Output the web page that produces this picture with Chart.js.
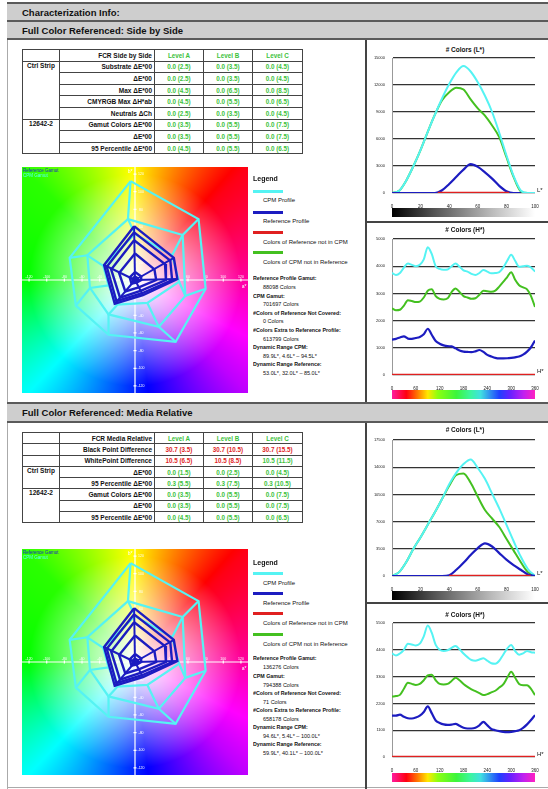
<!DOCTYPE html>
<html>
<head>
<meta charset="utf-8">
<title>Characterization Info</title>
<script src="https://cdn.jsdelivr.net/npm/chart.js"></script>
<style>
  body { margin: 0; background: #fff; font-family: "Liberation Sans", Arial, sans-serif; color: #111; }
  #page { position: relative; width: 548px; height: 789px; overflow: hidden; }
  .bar { position: absolute; left: 7px; right: 0; background: #cecece; font-weight: bold; font-size: 9.5px;
         padding-left: 15px; box-sizing: border-box; display: flex; align-items: center; }
  .vline { position: absolute; background: #444; }
  table.fcr { position: absolute; left: 22px; border-collapse: collapse; table-layout: fixed;
              font-weight: bold; border: 1.5px solid #444; }
  table.fcr td { border: 1px solid #444; padding: 0 2px; white-space: nowrap; overflow: hidden; }
  table.fcr td.lbl { text-align: right; font-size: 6.5px; }
  table.fcr td.grp { vertical-align: top; text-align: center; font-size: 6.5px; }
  table.fcr td.hd, table.fcr td.ok, table.fcr td.bad { text-align: center; font-size: 6.3px; }
  table.fcr td.hd, table.fcr td.ok { color: #3cc23c; }
  table.fcr td.bad { color: #e02525; }
  .lg { position: absolute; left: 253px; width: 110px; overflow: hidden; white-space: nowrap; }
  .t { position: absolute; white-space: nowrap; line-height: 8px; }
  .sw { position: absolute; left: 253px; width: 30px; height: 2.5px; }
  .ttl { position: absolute; width: 182px; left: 374px; text-align: center; font-weight: bold; font-size: 6.5px; }
  .gbar { position: absolute; left: 392px; width: 143px; height: 9px; }
  .gray { background: linear-gradient(to right, #000, #555 30%, #bbb 70%, #fff); }
  .hue { background: linear-gradient(to right, #ff1a9e 0%, #ff0010 10%, #ff7a00 18%, #ffe800 25%, #8cff10 32%, #3cf53c 45%, #3cf5a0 55%, #40e0e0 62%, #2040ff 75%, #6a20ff 83%, #c020f0 92%, #ff20c0 100%); }
  canvas { position: absolute; }
</style>
</head>
<body>
<div id="page">
  <div class="bar" style="top:2px;height:19px;border-top:2px solid #5a5a5a;">Characterization Info:</div>
  <div class="bar" style="top:20px;height:20px;border-top:2px solid #5a5a5a;border-bottom:2px solid #5a5a5a;">Full Color Referenced: Side by Side</div>
  <div class="bar" style="top:402px;height:21px;border-top:2px solid #5a5a5a;border-bottom:2px solid #5a5a5a;">Full Color Referenced: Media Relative</div>

  <div class="vline" style="left:7px;top:40px;width:1px;height:362px;background:#aaa"></div>
  <div class="vline" style="left:7px;top:423px;width:1px;height:366px;background:#aaa"></div>
  <div class="vline" style="left:7px;top:787px;width:541px;height:1px;background:#aaa"></div>
  <div class="vline" style="left:365px;top:40px;width:2px;height:362px"></div>
  <div class="vline" style="left:365px;top:423px;width:2px;height:366px"></div>
  <div class="vline" style="left:365px;top:221px;width:183px;height:2px"></div>
  <div class="vline" style="left:365px;top:602px;width:183px;height:2px"></div>

  <table class="fcr" style="top:49px">
    <colgroup><col style="width:37px"><col style="width:95px"><col style="width:49px"><col style="width:49px"><col style="width:50px"></colgroup>
    <tr style="height:11.6px"><td></td><td class="lbl">FCR Side by Side</td><td class="hd">Level A</td><td class="hd">Level B</td><td class="hd">Level C</td></tr>
    <tr style="height:11.6px"><td rowspan="5" class="grp">Ctrl Strip</td><td class="lbl">Substrate ΔE*00</td><td class="ok">0.0 (2.5)</td><td class="ok">0.0 (3.5)</td><td class="ok">0.0 (4.5)</td></tr>
    <tr style="height:11.6px"><td class="lbl">ΔE*00</td><td class="ok">0.0 (2.5)</td><td class="ok">0.0 (3.5)</td><td class="ok">0.0 (4.5)</td></tr>
    <tr style="height:11.6px"><td class="lbl">Max ΔE*00</td><td class="ok">0.0 (4.5)</td><td class="ok">0.0 (6.5)</td><td class="ok">0.0 (8.5)</td></tr>
    <tr style="height:11.6px"><td class="lbl">CMYRGB Max ΔH*ab</td><td class="ok">0.0 (4.5)</td><td class="ok">0.0 (5.5)</td><td class="ok">0.0 (6.5)</td></tr>
    <tr style="height:11.6px"><td class="lbl">Neutrals ΔCh</td><td class="ok">0.0 (2.5)</td><td class="ok">0.0 (3.5)</td><td class="ok">0.0 (4.5)</td></tr>
    <tr style="height:11.6px"><td rowspan="3" class="grp">12642-2</td><td class="lbl">Gamut Colors ΔE*00</td><td class="ok">0.0 (3.5)</td><td class="ok">0.0 (5.5)</td><td class="ok">0.0 (7.5)</td></tr>
    <tr style="height:11.6px"><td class="lbl">ΔE*00</td><td class="ok">0.0 (3.5)</td><td class="ok">0.0 (5.5)</td><td class="ok">0.0 (7.5)</td></tr>
    <tr style="height:11.6px"><td class="lbl">95 Percentile ΔE*00</td><td class="ok">0.0 (4.5)</td><td class="ok">0.0 (5.5)</td><td class="ok">0.0 (6.5)</td></tr>
  </table>

  <table class="fcr" style="top:432px">
    <colgroup><col style="width:37px"><col style="width:95px"><col style="width:49px"><col style="width:49px"><col style="width:50px"></colgroup>
    <tr style="height:11.3px"><td></td><td class="lbl">FCR Media Relative</td><td class="hd">Level A</td><td class="hd">Level B</td><td class="hd">Level C</td></tr>
    <tr style="height:11.3px"><td></td><td class="lbl">Black Point Difference</td><td class="bad">30.7 (3.5)</td><td class="bad">30.7 (10.5)</td><td class="bad">30.7 (15.5)</td></tr>
    <tr style="height:11.3px"><td></td><td class="lbl">WhitePoint Difference</td><td class="bad">10.5 (6.5)</td><td class="bad">10.5 (8.5)</td><td class="ok">10.5 (11.5)</td></tr>
    <tr style="height:11.3px"><td rowspan="2" class="grp">Ctrl Strip</td><td class="lbl">ΔE*00</td><td class="ok">0.0 (1.5)</td><td class="ok">0.0 (2.5)</td><td class="ok">0.0 (4.5)</td></tr>
    <tr style="height:11.3px"><td class="lbl">95 Percentile ΔE*00</td><td class="ok">0.3 (5.5)</td><td class="ok">0.3 (7.5)</td><td class="ok">0.3 (10.5)</td></tr>
    <tr style="height:11.3px"><td rowspan="3" class="grp">12642-2</td><td class="lbl">Gamut Colors ΔE*00</td><td class="ok">0.0 (3.5)</td><td class="ok">0.0 (5.5)</td><td class="ok">0.0 (7.5)</td></tr>
    <tr style="height:11.3px"><td class="lbl">ΔE*00</td><td class="ok">0.0 (3.5)</td><td class="ok">0.0 (5.5)</td><td class="ok">0.0 (7.5)</td></tr>
    <tr style="height:11.3px"><td class="lbl">95 Percentile ΔE*00</td><td class="ok">0.0 (4.5)</td><td class="ok">0.0 (5.5)</td><td class="ok">0.0 (6.5)</td></tr>
  </table>

  <!-- gamut plots -->
  <canvas id="gamut1" width="226" height="226" style="left:22px;top:167px"></canvas>
  <canvas id="gamut2" width="226" height="226" style="left:22px;top:549px"></canvas>
  <div class="t" style="left:23px;top:168px;font-size:4.5px;line-height:5px;color:#1a1ad0">Reference Gamut</div>
  <div class="t" style="left:23px;top:173px;font-size:4.5px;line-height:5px;color:#5ff">CPM Gamut</div>
  <div class="t" style="left:23px;top:550px;font-size:4.5px;line-height:5px;color:#1a1ad0">Reference Gamut</div>
  <div class="t" style="left:23px;top:555px;font-size:4.5px;line-height:5px;color:#5ff">CPM Gamut</div>

  <!-- legend, section 1 -->
  <div class="lg" style="top:160px;height:230px">
    <div class="t" style="left:0;top:15px;font-size:7px;font-weight:bold">Legend</div>
    <div class="sw" style="left:0;top:30px;background:#55f3f3"></div>
    <div class="t" style="left:10px;top:36px;font-size:6px">CPM Profile</div>
    <div class="sw" style="left:0;top:51px;background:#1c1cc0"></div>
    <div class="t" style="left:10px;top:57px;font-size:6px">Reference Profile</div>
    <div class="sw" style="left:0;top:71px;background:#e02020"></div>
    <div class="t" style="left:10px;top:78px;font-size:6px">Colors of Reference not in CPM</div>
    <div class="sw" style="left:0;top:91px;background:#44c020"></div>
    <div class="t" style="left:10px;top:98px;font-size:6px">Colors of CPM not in Reference</div>
    <div class="t" style="left:0;top:114px;font-size:5.3px;font-weight:bold">Reference Profile Gamut:</div>
    <div class="t" style="left:10px;top:123px;font-size:5.5px">88098 Colors</div>
    <div class="t" style="left:0;top:132px;font-size:5.3px;font-weight:bold">CPM Gamut:</div>
    <div class="t" style="left:10px;top:140px;font-size:5.5px">701697 Colors</div>
    <div class="t" style="left:0;top:149px;font-size:5.3px;font-weight:bold">#Colors of Reference Not Covered:</div>
    <div class="t" style="left:10px;top:157px;font-size:5.5px">0 Colors</div>
    <div class="t" style="left:0;top:166px;font-size:5.3px;font-weight:bold">#Colors Extra to Reference Profile:</div>
    <div class="t" style="left:10px;top:175px;font-size:5.5px">613799 Colors</div>
    <div class="t" style="left:0;top:183px;font-size:5.3px;font-weight:bold">Dynamic Range CPM:</div>
    <div class="t" style="left:10px;top:192px;font-size:5.5px">89.9L*, 4.6L* – 94.5L*</div>
    <div class="t" style="left:0;top:200px;font-size:5.3px;font-weight:bold">Dynamic Range Reference:</div>
    <div class="t" style="left:10px;top:209px;font-size:5.5px">53.0L*, 32.0L* – 85.0L*</div>
  </div>

  <!-- legend, section 2 -->
  <div class="lg" style="top:542px;height:230px">
    <div class="t" style="left:0;top:17px;font-size:7px;font-weight:bold">Legend</div>
    <div class="sw" style="left:0;top:30px;background:#55f3f3"></div>
    <div class="t" style="left:10px;top:37px;font-size:6px">CPM Profile</div>
    <div class="sw" style="left:0;top:50px;background:#1c1cc0"></div>
    <div class="t" style="left:10px;top:57px;font-size:6px">Reference Profile</div>
    <div class="sw" style="left:0;top:70px;background:#e02020"></div>
    <div class="t" style="left:10px;top:77px;font-size:6px">Colors of Reference not in CPM</div>
    <div class="sw" style="left:0;top:91px;background:#44c020"></div>
    <div class="t" style="left:10px;top:98px;font-size:6px">Colors of CPM not in Reference</div>
    <div class="t" style="left:0;top:112px;font-size:5.3px;font-weight:bold">Reference Profile Gamut:</div>
    <div class="t" style="left:10px;top:121px;font-size:5.5px">136276 Colors</div>
    <div class="t" style="left:0;top:130px;font-size:5.3px;font-weight:bold">CPM Gamut:</div>
    <div class="t" style="left:10px;top:139px;font-size:5.5px">794388 Colors</div>
    <div class="t" style="left:0;top:147px;font-size:5.3px;font-weight:bold">#Colors of Reference Not Covered:</div>
    <div class="t" style="left:10px;top:156px;font-size:5.5px">71 Colors</div>
    <div class="t" style="left:0;top:164px;font-size:5.3px;font-weight:bold">#Colors Extra to Reference Profile:</div>
    <div class="t" style="left:10px;top:173px;font-size:5.5px">658178 Colors</div>
    <div class="t" style="left:0;top:181px;font-size:5.3px;font-weight:bold">Dynamic Range CPM:</div>
    <div class="t" style="left:10px;top:190px;font-size:5.5px">94.6L*, 5.4L* – 100.0L*</div>
    <div class="t" style="left:0;top:198px;font-size:5.3px;font-weight:bold">Dynamic Range Reference:</div>
    <div class="t" style="left:10px;top:207px;font-size:5.5px">59.9L*, 40.1L* – 100.0L*</div>
  </div>

  <!-- histograms -->
  <div class="ttl" style="left:374px;top:46px">#&nbsp;Colors (L*)</div>
  <canvas id="histL1" width="182" height="170" style="left:366px;top:40px"></canvas>
  <div class="t" style="left:537px;top:186px;font-size:6px">L*</div>
  <div class="gbar gray" style="top:208px"></div>

  <div class="ttl" style="left:374px;top:226px">#&nbsp;Colors (H*)</div>
  <canvas id="histH1" width="182" height="170" style="left:366px;top:222px"></canvas>
  <div class="t" style="left:537px;top:367px;font-size:6px">H*</div>
  <div class="gbar hue" style="top:390px"></div>

  <div class="ttl" style="left:374px;top:426px">#&nbsp;Colors (L*)</div>
  <canvas id="histL2" width="182" height="170" style="left:366px;top:422px"></canvas>
  <div class="t" style="left:537px;top:569px;font-size:6px">L*</div>
  <div class="gbar gray" style="top:591px"></div>

  <div class="ttl" style="left:374px;top:611px">#&nbsp;Colors (H*)</div>
  <canvas id="histH2" width="182" height="170" style="left:366px;top:604px"></canvas>
  <div class="t" style="left:537px;top:750px;font-size:6px">H*</div>
  <div class="gbar hue" style="top:773px"></div>
</div>

<script>
// ---- L* histograms (section 1: side by side) ----
const lightness = [0, 5, 10, 15, 20, 25, 30, 35, 40, 45, 50, 55, 60, 65, 70, 75, 80, 85, 90, 95, 100];
const cpmL1   = [0, 250, 1400, 3000, 4800, 6800, 8700, 10500, 12100, 13400, 14100, 13500, 12300, 10800, 9000, 6700, 4200, 1900, 300, 0, 0];
const extraL1 = [0, 250, 1400, 3000, 4800, 6800, 8700, 10300, 11200, 11700, 11500, 10400, 9400, 8600, 7500, 6200, 4000, 1800, 200, 0, 0];
const refL1   = [0, 0, 0, 0, 0, 0, 0, 300, 1000, 1800, 2600, 3200, 2900, 2300, 1600, 800, 200, 0, 0, null, null];
const missX1  = [32, 82];
const missL1  = [0, 0];

// ---- H* histograms (section 1) ----
const hue = [0, 10, 20, 30, 40, 50, 60, 70, 80, 90, 100, 110, 120, 130, 140, 150, 160, 170, 180,
             190, 200, 210, 220, 230, 240, 250, 260, 270, 280, 290, 300, 310, 320, 330, 340, 350, 360];
const cpmH1   = [3750, 3680, 3750, 3950, 4100, 4050, 4000, 4050, 4250, 4700, 4450, 4000, 3900, 3870, 3880, 4000, 4100, 3980, 3850,
                 3800, 3720, 3680, 3750, 3860, 3800, 3740, 3750, 3780, 3950, 4200, 4420, 4200, 3980, 4000, 4020, 3950, 3800];
const extraH1 = [2450, 2380, 2400, 2550, 2750, 2720, 2680, 2700, 2850, 3100, 3150, 2900, 2800, 2780, 2820, 3050, 3180, 3050, 2900,
                 2850, 2800, 2820, 2950, 3100, 3080, 3060, 3100, 3250, 3420, 3600, 3780, 3500, 3300, 3220, 3150, 2900, 2500];
const refH1   = [1300, 1330, 1380, 1420, 1340, 1330, 1360, 1400, 1500, 1700, 1480, 1250, 1150, 1090, 1060, 1050, 980, 900, 860,
                 850, 840, 870, 920, 850, 740, 680, 630, 610, 610, 615, 630, 650, 680, 750, 860, 1020, 1270];
const missXH  = [0, 360];
const missH   = [0, 0];

// ---- section 2: media relative ----
const cpmL2   = [0, 500, 1800, 3500, 5000, 6600, 8200, 9900, 11800, 13300, 14400, 15000, 13900, 12500, 10600, 8700, 6600, 4500, 2500, 900, 0];
const extraL2 = [0, 500, 1800, 3500, 5000, 6600, 8200, 9900, 11600, 13000, 13200, 12000, 10200, 8500, 7400, 6300, 4800, 3300, 1800, 500, 0];
const refL2   = [0, 0, 0, 0, 0, 0, 0, 0, 100, 800, 1700, 2700, 3600, 4200, 3800, 2950, 2100, 1400, 800, 200, 0];
const missX2  = [40, 97];
const missL2  = [0, 0];

const cpmH2   = [4250, 4170, 4250, 4400, 4650, 4620, 4580, 4650, 4950, 5400, 5100, 4600, 4400, 4350, 4380, 4480, 4560, 4420, 4250,
                 4100, 3980, 3950, 4000, 4050, 3950, 3850, 3830, 3950, 4200, 4450, 4600, 4350, 4200, 4250, 4350, 4300, 4280];
const extraH2 = [2480, 2500, 2550, 2800, 3050, 3000, 2960, 3000, 3150, 3350, 3380, 3150, 3000, 2980, 3000, 3120, 3250, 3150, 3000,
                 2880, 2780, 2700, 2620, 2540, 2580, 2650, 2720, 2850, 2980, 3250, 3500, 3250, 3000, 2950, 2950, 2800, 2540];
const refH2   = [1700, 1700, 1740, 1650, 1590, 1580, 1620, 1700, 1850, 2080, 1800, 1500, 1400, 1340, 1320, 1330, 1360, 1280, 1200,
                 1170, 1170, 1200, 1300, 1440, 1300, 1150, 1100, 1060, 1030, 1020, 1030, 1060, 1100, 1200, 1340, 1520, 1720];

// ---- a*b* gamut outlines (vertices [a*, b*], outer ring first) ----
const cpmGamut = [
  [[-5, 112], [72, 69], [80, -10], [46, -70], [-30, -62], [-67, -29], [-74, 25]],
  [[-8, 69], [54, 51], [57, -18], [27, -53], [-30, -39], [-51, -9], [-54, 28]],
  [[0, 52], [42, 28], [50, -2], [14, -26], [-20, -28], [-30, -6], [-36, 16]]
];
const refGamut = [
  [[-1, 61], [44, 25], [48, 1], [9, -17], [-23, -27], [-35, 17]],
  [[-1, 54], [40, 22], [42, 0], [8, -15], [-21, -24], [-32, 15]],
  [[-1, 45], [34, 18], [35, 0], [7, -12], [-17, -20], [-27, 12]],
  [[0, 30], [22, 12], [24, 0], [5, -8], [-11, -13], [-18, 8]],
  [[0, 9], [7, 4], [7, 0], [2, -3], [-4, -4], [-6, 3]],
  [[0, 4], [3, 2], [3, 0], [1, -1], [-2, -2], [-3, 1]]
];
const abTicks = [-120, -100, -80, -60, -40, -20, 20, 40, 60, 80, 100, 120];

const CPM = '#55f3f3', REF = '#1c1cc0', MISS = '#e02020', EXTRA = '#44c020';
Chart.defaults.font.family = '"Liberation Sans", Arial, sans-serif';

function series(xs, ys, color, width) {
  return {
    data: xs.map((x, i) => ({ x: x, y: ys[i] })),
    borderColor: color, borderWidth: width, pointRadius: 0, fill: false,
    tension: 0.4, cubicInterpolationMode: 'monotone'
  };
}

function histogram(id, sets, xMax, xStep, yMax, yStep, padTop, axisH) {
  new Chart(document.getElementById(id), {
    type: 'line',
    data: { datasets: sets },
    options: {
      responsive: false, animation: false,
      layout: { padding: { top: padTop, right: 13, left: 0, bottom: 0 } },
      plugins: { legend: { display: false }, tooltip: { enabled: false } },
      scales: {
        x: {
          type: 'linear', min: 0, max: xMax,
          grid: { display: false }, border: { display: false },
          ticks: { stepSize: xStep, color: '#222', font: { size: 4.5 }, padding: 3, maxRotation: 0, autoSkip: false },
          afterFit: s => { s.height = axisH; }
        },
        y: {
          min: 0, max: yMax,
          grid: { color: '#333', lineWidth: 1.3, drawTicks: false },
          border: { color: '#999', width: 1 },
          ticks: { stepSize: yStep, color: '#222', font: { size: 4 }, padding: 7, callback: v => String(v) },
          afterFit: s => { s.width = 26; }
        }
      }
    }
  });
}

// order: first dataset is drawn on top
histogram('histL1', [
  series(missX1, missL1, MISS, 2.5), series(lightness, refL1, REF, 2.2),
  series(lightness, cpmL1, CPM, 2), series(lightness, extraL1, EXTRA, 2)
], 100, 20, 15000, 3000, 18, 17);
histogram('histH1', [
  series(missXH, missH, MISS, 2.5), series(hue, refH1, REF, 2.2),
  series(hue, cpmH1, CPM, 2), series(hue, extraH1, EXTRA, 2)
], 360, 60, 5000, 1000, 17, 17);
histogram('histL2', [
  series(missX2, missL2, MISS, 2.5), series(lightness, refL2, REF, 2.2),
  series(lightness, cpmL2, CPM, 2), series(lightness, extraL2, EXTRA, 2)
], 100, 20, 17500, 3500, 18, 16);
histogram('histH2', [
  series(missXH, missH, MISS, 2.5), series(hue, refH2, REF, 2.2),
  series(hue, cpmH2, CPM, 2), series(hue, extraH2, EXTRA, 2)
], 360, 60, 5500, 1100, 19, 17);

// a*b* colour field behind the gamut plots
const hueStops = [[-180, 120], [-135, 178], [-90, 232], [-45, 285], [0, 322], [45, 355], [90, 418], [135, 470], [180, 480]];
function hslRgb(h) {
  h = ((h % 360) + 360) % 360;
  const f = n => { const k = (n + h / 30) % 12; return 255 * (0.5 - 0.5 * Math.max(-1, Math.min(k - 3, 9 - k, 1))); };
  return [f(0), f(8), f(4)];
}
function abField(w, h) {
  const c = document.createElement('canvas');
  c.width = w; c.height = h;
  const g = c.getContext('2d');
  const img = g.createImageData(w, h);
  for (let py = 0; py < h; py++) {
    for (let px = 0; px < w; px++) {
      const a = (px + 0.5) / w * 256 - 128, b = 128 - (py + 0.5) / h * 256;
      const ang = Math.atan2(b, a) * 180 / Math.PI;
      let k = 0;
      while (k < hueStops.length - 2 && ang > hueStops[k + 1][0]) k++;
      const t = (ang - hueStops[k][0]) / (hueStops[k + 1][0] - hueStops[k][0]);
      const rgb = hslRgb(hueStops[k][1] + t * (hueStops[k + 1][1] - hueStops[k][1]));
      const s = Math.pow(Math.min(1, Math.hypot(a, b) / 120), 1.15);
      const o = (py * w + px) * 4;
      for (let j = 0; j < 3; j++) img.data[o + j] = 255 + (rgb[j] - 255) * s;
      img.data[o + 3] = 255;
    }
  }
  g.putImageData(img, 0, 0);
  return c;
}
const abBackground = {
  id: 'abBackground',
  beforeDraw(chart) {
    const a = chart.chartArea;
    if (!chart.$field) chart.$field = abField(Math.round(a.right - a.left), Math.round(a.bottom - a.top));
    chart.ctx.drawImage(chart.$field, a.left, a.top);
  },
  beforeDatasetsDraw(chart) {
    // white a*/b* cross with ticks, placed through the chart's own scales
    const { ctx, scales: { x, y } } = chart;
    const x0 = x.getPixelForValue(0), y0 = y.getPixelForValue(0);
    ctx.save();
    ctx.strokeStyle = '#fff'; ctx.fillStyle = '#fff'; ctx.lineWidth = 1.2;
    ctx.beginPath();
    ctx.moveTo(x.left, y0); ctx.lineTo(x.right, y0);
    ctx.moveTo(x0, y.top); ctx.lineTo(x0, y.bottom);
    abTicks.forEach(v => {
      const px = x.getPixelForValue(v), py = y.getPixelForValue(v);
      ctx.moveTo(px, y0 - 1.5); ctx.lineTo(px, y0 + 1.5);
      ctx.moveTo(x0 - 1.5, py); ctx.lineTo(x0 + 1.5, py);
    });
    ctx.stroke();
    ctx.font = '3.5px "Liberation Sans"';
    ctx.textAlign = 'center';
    abTicks.forEach(v => {
      ctx.fillText(String(v), x.getPixelForValue(v), y0 - 2.5);
      ctx.fillText(String(v), x0 + 6, y.getPixelForValue(v) + 1.2);
    });
    ctx.font = '5px "Liberation Sans"';
    ctx.fillText('b*', x0 - 5, y.top + 6);
    ctx.fillText('a*', x.right - 4, y0 + 8);
    ctx.restore();
  }
};

function outline(points, color, width) {
  return { data: points, borderColor: color, borderWidth: width, showLine: true, pointRadius: 0, fill: false };
}
function gamutPlot(id, cpm, ref) {
  const closed = r => r.concat([r[0]]).map(p => ({ x: p[0], y: p[1] }));
  const sets = [];
  ref.forEach(r => sets.push(outline(closed(r), REF, 2.4)));
  ref[0].forEach(p => sets.push(outline([{ x: 0, y: 0 }, { x: p[0], y: p[1] }], REF, 2)));
  cpm.forEach(r => sets.push(outline(closed(r), CPM, 2.2)));
  cpm[0].forEach((p, i) => sets.push(outline(cpm.map(r => ({ x: r[i][0], y: r[i][1] })), CPM, 2.2)));
  const axis = { type: 'linear', min: -128, max: 128, display: false };
  new Chart(document.getElementById(id), {
    type: 'scatter',
    data: { datasets: sets },
    options: {
      responsive: false, animation: false,
      layout: { padding: 0 },
      plugins: { legend: { display: false }, tooltip: { enabled: false } },
      scales: { x: axis, y: axis }
    },
    plugins: [abBackground]
  });
}

gamutPlot('gamut1', cpmGamut, refGamut);
gamutPlot('gamut2', cpmGamut, refGamut);
</script>
</body>
</html>
